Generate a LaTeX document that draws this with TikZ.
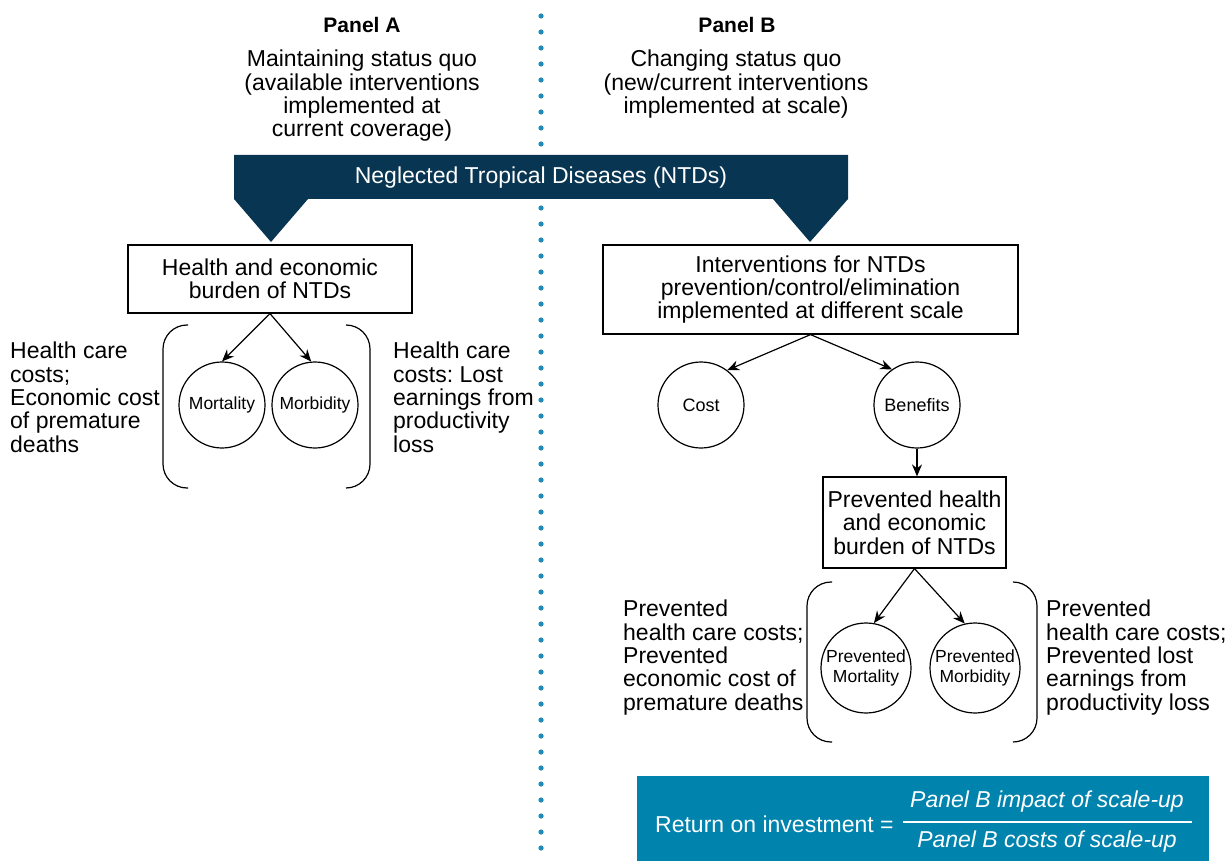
\documentclass[tikz,border=0pt]{standalone}
\usepackage{fontspec}
\setmainfont{Liberation Sans}
\usetikzlibrary{arrows.meta,positioning}
\definecolor{ntdnavy}{HTML}{083552}
\definecolor{roiblue}{HTML}{0083AD}
\definecolor{dotblue}{HTML}{1F8BBA}
\frenchspacing
\newcommand\txtsz{\fontsize{23}{23.3}\selectfont}
\newcommand\circsz{\fontsize{17.5}{19.5}\selectfont}
\tikzset{box/.style={draw,line width=1.2pt,align=center,font=\txtsz,inner sep=0pt},
  outcome/.style={draw,circle,line width=1.2pt,inner sep=0pt,minimum size=86pt,align=center,font=\circsz},
  note/.style={align=left,anchor=north west,inner sep=0pt,font=\txtsz},
  head/.style={align=center,inner sep=0pt,font=\txtsz},
  arr/.style={-{Stealth[length=12pt,width=10pt]},line width=1.2pt},
  brk/.style={line width=1.2pt,rounded corners=24pt}}

\begin{document}
\begin{tikzpicture}[x=1pt,y=-1pt]
\useasboundingbox (0,0) rectangle (1231,861);
% dotted divider
\foreach \y in {16,32,...,848} \fill[dotblue] (541,\y) circle (2.6pt);

% headings
\node[head,font=\fontsize{21}{23}\selectfont\bfseries,anchor=base] (Ahead) at (362,33) {Panel A};
\node[head,anchor=north] (Adesc) at (362,50) {Maintaining status quo\\(available interventions\\implemented at\\current coverage)};
\node[head,font=\fontsize{21}{23}\selectfont\bfseries,anchor=base] (Bhead) at (737,33) {Panel B};
\node[head,anchor=north] (Bdesc) at (736,50) {Changing status quo\\(new/current interventions\\implemented at scale)};

% banner
\fill[ntdnavy] (234,155) -- (848,155) -- (848,199) -- (810,242) -- (773,199) -- (308,199)
  -- (271,242) -- (234,199) -- cycle;
\node[head,text=white] (ntd) at (541,178) {Neglected Tropical Diseases (NTDs)};

% panel A
\node[box,minimum width=284pt,minimum height=68pt] (burden) at (270,279) {Health and economic\\burden of NTDs};
\node[outcome] (mort) at (222,405) {Mortality};
\node[outcome] (morb) at (315,405) {Morbidity};
\draw[arr] (burden.south) -- (mort.north);
\draw[arr] (burden.south) -- (morb.95);
\draw[brk] (188,325) -| (163,406) |- (188,488);
\draw[brk] (346,325) -| (370,406) |- (346,488);
\node[note] (costsA) at (10,342) {Health care\\costs;\\Economic cost\\of premature\\deaths};
\node[note] (lossA) at (393,342) {Health care\\costs: Lost\\earnings from\\productivity\\loss};

% panel B
\node[box,minimum width=415pt,minimum height=89pt] (interv) at (810.5,289.5) {Interventions for NTDs\\prevention/control/elimination\\implemented at different scale};
\node[outcome,font=\fontsize{18}{20}\selectfont] (cost) at (701,405) {Cost};
\node[outcome,font=\fontsize{18}{20}\selectfont] (ben) at (917,405) {Benefits};
\draw[arr] (interv.south) -- (cost.53);
\draw[arr] (interv.south) -- (ben.125);
\node[box,minimum width=183pt,minimum height=91pt] (prev) at (914.5,522.5) {Prevented health\\and economic\\burden of NTDs};
\draw[arr] (ben.south) -- (ben.south |- prev.north);
\node[outcome,minimum size=90pt] (pmort) at (866,668) {Prevented\\Mortality};
\node[outcome,minimum size=90pt] (pmorb) at (975,668) {Prevented\\Morbidity};
\draw[arr] (prev.south) -- (pmort.80);
\draw[arr] (prev.south) -- (pmorb.103);
\draw[brk] (832,582) -| (807,662) |- (832,742);
\draw[brk] (1013,582) -| (1037,662) |- (1013,742);
\node[note] (costsB) at (623,600) {Prevented\\health care costs;\\Prevented\\economic cost of\\premature deaths};
\node[note] (lossB) at (1046,600) {Prevented\\health care costs;\\Prevented lost\\earnings from\\productivity loss};

% return on investment
\node[fill=roiblue,minimum width=572pt,minimum height=85pt,inner sep=0pt] (roi) at (923,818.5) {};
\node[head,text=white,anchor=west] (roilabel) at (655,824) {Return on investment =};
\node[head,text=white,font=\txtsz\itshape] (num) at (1047,802) {Panel B impact of scale-up};
\node[head,text=white,font=\txtsz\itshape] (den) at (1047,842) {Panel B costs of scale-up};
\draw[white,line width=1.3pt] (903,822) -- (1192,822);
\end{tikzpicture}
\end{document}
